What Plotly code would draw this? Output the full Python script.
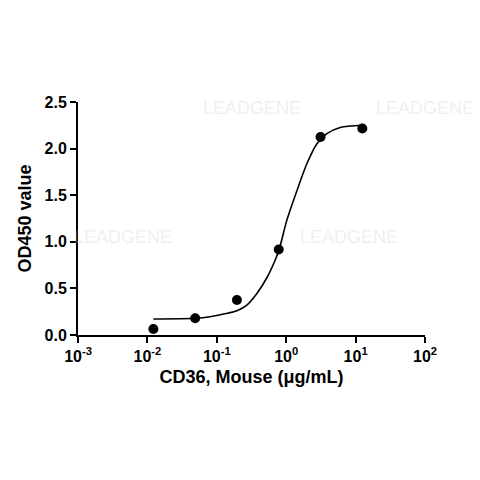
import plotly.graph_objects as go

# Puntos medidos (diluciones 1:4)
conc = [0.0122, 0.0488, 0.195, 0.78, 3.125, 12.5]
od450 = [0.064, 0.179, 0.375, 0.918, 2.125, 2.215]

# Curva ajustada
curve_x = [0.0122, 0.0488, 0.08, 0.125, 0.195, 0.271, 0.38, 0.536, 0.69, 0.79,
           1.02, 1.43, 1.99, 2.76, 3.86, 6.0, 12.5]
curve_y = [0.171, 0.179, 0.196, 0.225, 0.26, 0.32, 0.447, 0.625, 0.80, 0.915,
           1.23, 1.55, 1.84, 2.05, 2.16, 2.226, 2.25]

x_ticks = [0.001, 0.01, 0.1, 1, 10, 100]
x_labels = ["10<sup>-3</sup>", "10<sup>-2</sup>", "10<sup>-1</sup>",
            "10<sup>0</sup>", "10<sup>1</sup>", "10<sup>2</sup>"]

FONT = "Liberation Sans, Arial, sans-serif"

fig = go.Figure()

fig.add_trace(
    go.Scatter(
        x=curve_x,
        y=curve_y,
        mode="lines",
        line=dict(color="black", width=1.6, shape="spline", smoothing=0.8),
        hoverinfo="none",
        showlegend=False,
    )
)
fig.add_trace(
    go.Scatter(
        x=conc,
        y=od450,
        mode="markers",
        marker=dict(color="black", size=10),
        showlegend=False,
    )
)

# Marcas de agua tenues (solo donde no tapan textos)
wm = [(0.5, 0.975), (1.0, 0.975), (0.13, 0.42), (0.78, 0.42)]
for xx, yy in wm:
    fig.add_annotation(
        x=xx, y=yy, xref="paper", yref="paper",
        xanchor="center", yanchor="middle",
        text="LEADGENE", showarrow=False,
        font=dict(family=FONT, size=18, color="rgba(200,200,200,0.3)"),
    )

# La página añade 8 px de margen al cuerpo; se compensa en los márgenes
fig.update_layout(
    width=480,
    height=480,
    paper_bgcolor="white",
    plot_bgcolor="white",
    margin=dict(l=70, r=63, t=94, b=153),
    font=dict(family=FONT, color="black"),
    xaxis=dict(
        type="log",
        range=[-3, 2],
        tickvals=x_ticks,
        ticktext=x_labels,
        ticks="outside",
        ticklen=6,
        tickwidth=2,
        tickcolor="black",
        showline=True,
        linewidth=2,
        linecolor="black",
        showgrid=False,
        zeroline=False,
        tickfont=dict(family=FONT, size=16, weight="bold"),
        title=dict(text="CD36, Mouse (μg/mL)",
                   font=dict(family=FONT, size=18, weight="bold"), standoff=6),
    ),
    yaxis=dict(
        range=[0, 2.5],
        dtick=0.5,
        tickformat=".1f",
        ticks="outside",
        ticklen=6,
        tickwidth=2,
        tickcolor="black",
        showline=True,
        linewidth=2,
        linecolor="black",
        showgrid=False,
        zeroline=False,
        tickfont=dict(family=FONT, size=16, weight="bold"),
        title=dict(text="OD450 value",
                   font=dict(family=FONT, size=18, weight="bold"), standoff=8),
    ),
)

fig.write_html("out.html")
